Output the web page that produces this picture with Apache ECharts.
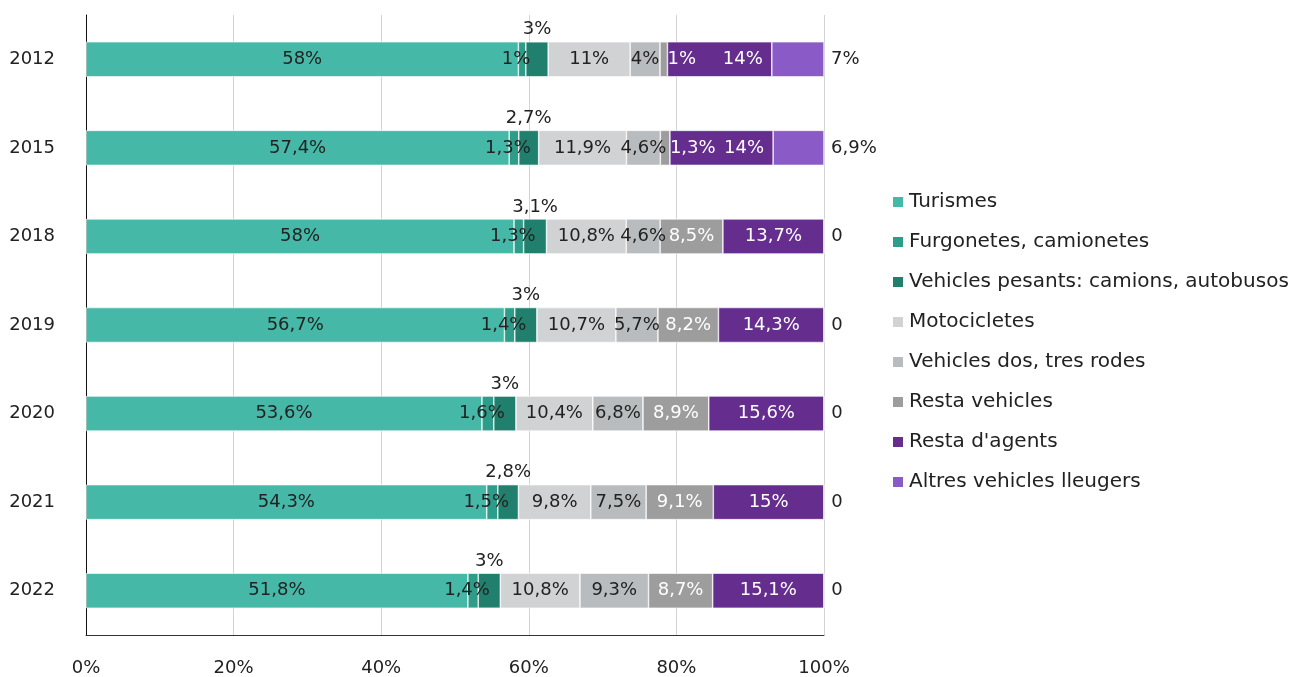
<!DOCTYPE html>
<html lang="ca">

<head>
    <meta charset="UTF-8">
    <title>Vehicles</title>
    <script src="https://cdn.jsdelivr.net/npm/echarts@6/dist/echarts.min.js"></script>
    <style>
        html, body { margin: 0; padding: 0; background: #fff; }
        #main { width: 1299px; height: 677px; }
    </style>
</head>

<body>
    <div id="main"></div>
</body>
<script>
    var years = ['2012', '2015', '2018', '2019', '2020', '2021', '2022'];
    var xTicks = [0, 20, 40, 60, 80, 100];

    var turismes = [58, 57.4, 58, 56.7, 53.6, 54.3, 51.8];
    var furgonetes = [1, 1.3, 1.3, 1.4, 1.6, 1.5, 1.4];
    var pesants = [3, 2.7, 3.1, 3, 3, 2.8, 3];
    var motos = [11, 11.9, 10.8, 10.7, 10.4, 9.8, 10.8];
    var dosTres = [4, 4.6, 4.6, 5.7, 6.8, 7.5, 9.3];
    var restaVehicles = [1, 1.3, 8.5, 8.2, 8.9, 9.1, 8.7];
    var restaAgents = [14, 14, 13.7, 14.3, 15.6, 15, 15.1];
    var altres = [7, 6.9, 0, 0, 0, 0, 0];

    var names = ['Turismes', 'Furgonetes, camionetes', 'Vehicles pesants: camions, autobusos',
        'Motocicletes', 'Vehicles dos, tres rodes', 'Resta vehicles', "Resta d'agents", 'Altres vehicles lleugers'];
    var values = [turismes, furgonetes, pesants, motos, dosTres, restaVehicles, restaAgents, altres];
    var colors = ['#46b8a7', '#2d9d89', '#21806d', '#d1d2d4', '#b9bcbe', '#9d9d9d', '#652e8e', '#8a5ac6'];

    var font = 'DejaVu Sans';

    // totals per year, bars are drawn as 100% stacks
    var totals = years.map(function (y, i) {
        return values.reduce(function (s, arr) { return s + arr[i]; }, 0);
    });

    function fmt(v) {
        if (v === 0) return '0';
        return String(v).replace('.', ',') + '%';
    }

    var chart = echarts.init(document.getElementById('main'));

    var series = values.map(function (arr, k) {
        var label = { show: true, fontFamily: font, fontSize: 18, color: '#222', position: 'inside' };
        if (k === 1) label.offset = [-6, 0];
        if (k === 2) { label.position = 'top'; label.distance = 3; }
        if (k === 5 || k === 6) label.color = '#fff';
        if (k === 7) { label.position = 'right'; label.distance = 7; }
        return {
            name: names[k],
            type: 'bar',
            stack: 'total',
            barWidth: 35,
            itemStyle: { color: colors[k], borderColor: '#fff', borderWidth: 0.6 },
            label: label,
            data: arr.map(function (v, i) {
                var item = { value: v / totals[i] * 100, raw: v };
                if (k === 5 && v < 2) item.label = { position: 'right', distance: 0 };
                if (k === 6 && altres[i] > 0) item.label = { position: 'insideRight', distance: 9 };
                return item;
            })
        };
    });

    var option = {
        animation: false,
        color: colors,
        textStyle: { fontFamily: font },
        grid: { left: 86, right: 475, top: 15, bottom: 42, containLabel: false },
        legend: {
            orient: 'vertical',
            left: 886,
            top: 186,
            icon: 'rect',
            itemWidth: 12,
            itemHeight: 12,
            itemGap: 18,
            textStyle: { fontFamily: font, fontSize: 20, color: '#222', lineHeight: 22 },
            data: names
        },
        xAxis: {
            type: 'value',
            min: 0,
            max: 100,
            interval: 20,
            axisLine: { show: true, lineStyle: { color: '#333' } },
            axisTick: { show: false },
            splitLine: { show: true, lineStyle: { color: '#d3d3d3' } },
            axisLabel: {
                fontFamily: font, fontSize: 18, color: '#222', margin: 24,
                customValues: xTicks,
                formatter: function (v) { return v + '%'; }
            }
        },
        yAxis: {
            type: 'category',
            inverse: true,
            data: years,
            axisLine: { show: true, lineStyle: { color: '#111' } },
            axisTick: { show: false },
            axisLabel: { fontFamily: font, fontSize: 18, color: '#222', margin: 31 }
        },
        series: series.map(function (s) {
            s.label.formatter = function (p) { return fmt(p.data.raw); };
            return s;
        })
    };

    chart.setOption(option);
</script>

</html>
